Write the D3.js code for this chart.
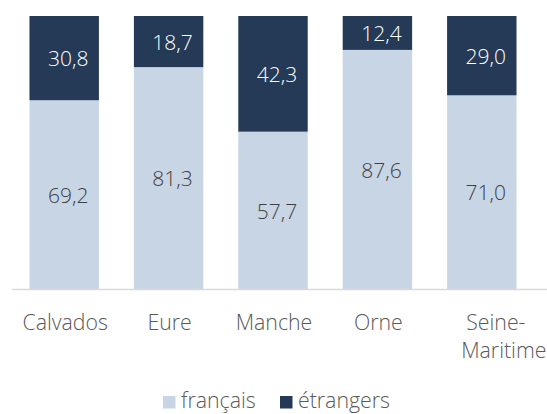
<!DOCTYPE html>
<html><head><meta charset="utf-8">
<script src="https://cdn.jsdelivr.net/npm/d3@7"></script>
<style>
html,body{margin:0;padding:0;background:#fff;overflow:hidden;}
svg{display:block;font-family:"Open Sans","Noto Sans",sans-serif;font-weight:300;}
</style></head>
<body>
<svg id="chart" width="547" height="414"></svg>
<script>
const categories = ["Calvados", "Eure", "Manche", "Orne", "Seine-Maritime"];
const francais = [69.2, 81.3, 57.7, 87.6, 71.0];
const etrangers = [30.8, 18.7, 42.3, 12.4, 29.0];
const seriesNames = ["français", "étrangers"];
const colors = ["#c8d5e5", "#243a57"];

const svg = d3.select("#chart");
const x = d3.scaleBand().domain(categories).range([12, 534]).paddingInner(0.335).paddingOuter(0.1675);
const y = d3.scaleLinear().domain([0, 100]).range([289.5, 16]);

const rows = categories.map((c, i) => ({cat: c, francais: francais[i], etrangers: etrangers[i]}));
const stack = d3.stack().keys(["francais", "etrangers"])(rows);
const fmt = v => d3.format(".1f")(v).replace(".", ",");

stack.forEach((layer, li) => {
  const g = svg.append("g");
  g.selectAll("rect").data(layer).join("rect")
    .attr("x", d => x(d.data.cat))
    .attr("width", x.bandwidth())
    .attr("y", d => y(d[1]))
    .attr("height", d => y(d[0]) - y(d[1]))
    .attr("fill", colors[li]);
  g.selectAll("text").data(layer).join("text")
    .attr("x", d => x(d.data.cat) + x.bandwidth() / 2 + 4)
    .attr("y", d => (y(d[0]) + y(d[1])) / 2)
    .attr("dy", "0.38em")
    .attr("text-anchor", "middle")
    .attr("font-size", "21px")
    .attr("fill", li === 1 ? "#ffffff" : "#404040")
    .text(d => fmt(d[1] - d[0]));
});

// axis
const xAxis = d3.axisBottom(x).tickSize(0).tickPadding(0);
const ax = svg.append("g").attr("transform", "translate(0,289.5)").call(xAxis)
  .attr("font-family", null).attr("font-size", null);
ax.select(".domain").attr("stroke", "#d9d9d9").attr("stroke-width", 1.5).attr("d", "M12,0H547");
ax.selectAll(".tick text").remove();
ax.selectAll(".tick").each(function(d) {
  const t = d3.select(this).append("text")
    .attr("fill", "#595959").attr("font-size", "21.3px")
    .attr("text-anchor", "middle");
  if (d === "Seine-Maritime") {
    t.append("tspan").attr("x", 14).attr("y", 40.5).text("Seine-");
    t.append("tspan").attr("x", 22).attr("y", 68.5).text("Maritime");
  } else {
    t.attr("x", 1).attr("y", 40.5).text(d);
  }
});

// legend
const legend = svg.append("g");
const lx = [163, 280];
seriesNames.forEach((n, i) => {
  legend.append("rect").attr("x", lx[i]).attr("y", 396).attr("width", 12.5).attr("height", 12.5).attr("fill", colors[i]);
  legend.append("text").attr("x", lx[i] + 18).attr("y", 408).attr("font-size", "21.3px").attr("fill", "#595959").text(n);
});
</script>
</body></html>
